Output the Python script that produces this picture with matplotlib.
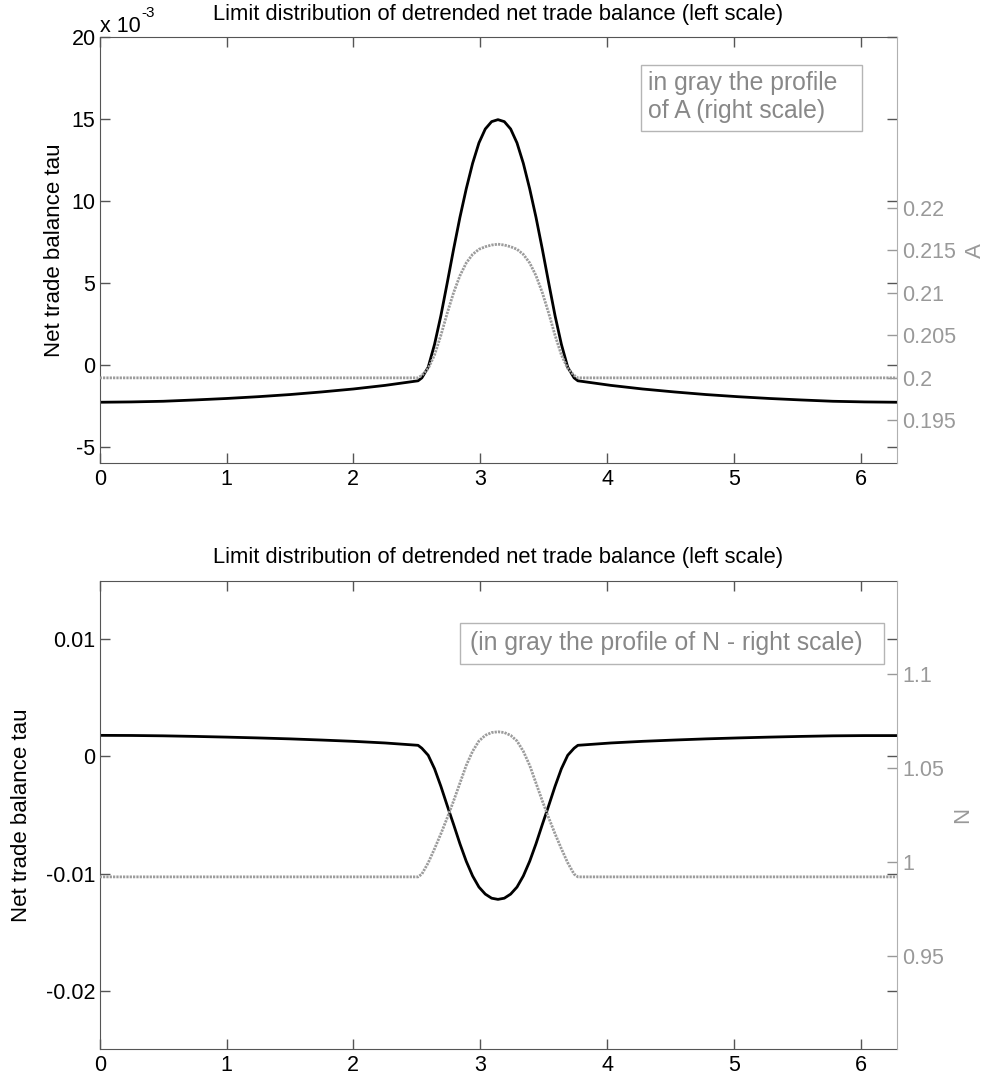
import numpy as np
import matplotlib
matplotlib.use("Agg")
import matplotlib.pyplot as plt
from matplotlib.ticker import FuncFormatter
from matplotlib.patches import Rectangle

plt.rcParams['font.family'] = ['Liberation Sans', 'DejaVu Sans']
plt.rcParams['axes.unicode_minus'] = False

# grid of the profile (0 .. 2*pi), finer around the bump at pi
x = [0, 0.25, 0.5, 0.75, 1.0, 1.25, 1.5, 1.75, 2.0, 2.25,
     2.51, 2.54, 2.59, 2.64, 2.69, 2.74, 2.79, 2.84, 2.89, 2.94, 2.99, 3.04, 3.09, 3.14,
     3.19, 3.24, 3.29, 3.34, 3.39, 3.44, 3.49, 3.54, 3.59, 3.64, 3.69, 3.74, 3.77,
     4.03, 4.28, 4.53, 4.78, 5.03, 5.28, 5.53, 5.78, 6.03, 6.283]

# top panel: net trade balance (x 1e-3) and A
tau_top = [-2.29, -2.27, -2.23, -2.15, -2.06, -1.95, -1.82, -1.66, -1.48, -1.26,
           -0.98, -0.80, -0.15, 1.25, 3.00, 5.00, 7.05, 9.00, 10.75, 12.30, 13.55, 14.40, 14.85, 14.97,
           14.85, 14.40, 13.55, 12.30, 10.75, 9.00, 7.05, 5.00, 3.00, 1.25, -0.15, -0.80, -0.98,
           -1.26, -1.48, -1.66, -1.82, -1.95, -2.06, -2.15, -2.23, -2.27, -2.29]
A_prof = [0.2, 0.2, 0.2, 0.2, 0.2, 0.2, 0.2, 0.2, 0.2, 0.2,
          0.2000, 0.2003, 0.2011, 0.2027, 0.2050, 0.2076, 0.2100, 0.2120, 0.2135, 0.2145, 0.2151, 0.2154, 0.2156, 0.2157,
          0.2156, 0.2154, 0.2151, 0.2145, 0.2135, 0.2120, 0.2100, 0.2076, 0.2050, 0.2027, 0.2011, 0.2003, 0.2000,
          0.2, 0.2, 0.2, 0.2, 0.2, 0.2, 0.2, 0.2, 0.2, 0.2]

# bottom panel: net trade balance (x 1e-3) and N
tau_bot = [1.80, 1.79, 1.76, 1.71, 1.65, 1.58, 1.50, 1.40, 1.29, 1.15,
           0.95, 0.70, 0.10, -1.05, -2.55, -4.20, -5.80, -7.45, -8.95, -10.20, -11.15, -11.75, -12.10, -12.20,
           -12.10, -11.75, -11.15, -10.20, -8.95, -7.45, -5.80, -4.20, -2.55, -1.05, 0.10, 0.70, 0.95,
           1.15, 1.29, 1.40, 1.50, 1.58, 1.65, 1.71, 1.76, 1.78, 1.78]
N_prof = [0.992, 0.992, 0.992, 0.992, 0.992, 0.992, 0.992, 0.992, 0.992, 0.992,
          0.992, 0.9935, 0.9995, 1.0070, 1.0150, 1.0235, 1.0325, 1.0420, 1.0515, 1.0590, 1.0645, 1.0675, 1.0690, 1.0694,
          1.0690, 1.0675, 1.0645, 1.0590, 1.0515, 1.0420, 1.0325, 1.0235, 1.0150, 1.0070, 0.9995, 0.9935, 0.992,
          0.992, 0.992, 0.992, 0.992, 0.992, 0.992, 0.992, 0.992, 0.992, 0.992]

x = np.array(x)
tau_top = np.array(tau_top) * 1e-3
tau_bot = np.array(tau_bot) * 1e-3

title = "Limit distribution of detrended net trade balance (left scale)"
fs = 15.5     # tick labels
fs_lab = 16   # axis labels
fs_title = 15.8
fs_box = 17.8
gray = '#999999'
frame = '#555555'


def style_axes(ax, ax2, gray_ticks, gray_lim):
    ax.set_xlim(0, 2 * np.pi)
    ax.set_xticks([0, 1, 2, 3, 4, 5, 6])
    ax.tick_params(direction='in', length=7, width=1, color=frame, labelsize=fs,
                   top=True, right=True, pad=4)
    ax.tick_params(axis='y', pad=3)
    for s in ['left', 'top', 'bottom']:
        ax.spines[s].set_color(frame)
    ax.spines['right'].set_visible(False)
    ax2.set_ylim(*gray_lim)
    ax2.set_yticks(gray_ticks)
    ax2.yaxis.set_major_formatter(FuncFormatter(lambda v, p: '%g' % round(v, 4)))
    ax2.tick_params(direction='in', length=7, width=1, color=gray, labelcolor=gray,
                    labelsize=fs, pad=4)
    for s in ['left', 'top', 'bottom']:
        ax2.spines[s].set_visible(False)
    ax2.spines['right'].set_color('#b0b0b0')


def note_box(ax, x0, y0, x1, y1, tx, ty, s):
    ax.add_patch(Rectangle((x0, y0), x1 - x0, y1 - y0, transform=ax.transAxes,
                           fc='white', ec='#b5b5b5', lw=1, zorder=5))
    ax.text(tx, ty, s, transform=ax.transAxes, fontsize=fs_box, color='#888888',
            ha='left', va='center', linespacing=1.2, zorder=6)


fig = plt.figure(figsize=(9.9, 10.81), dpi=100)

# ---- top panel ----
ax1 = fig.add_axes([0.1007, 0.5717, 0.805, 0.3938])
ax1b = ax1.twinx()
ax1.plot(x, tau_top, color='black', lw=2.0)
ax1b.plot(x, A_prof, color='#9c9c9c', lw=2.0, linestyle=(0, (0.8, 0.4)))
ax1.set_ylim(-6e-3, 20e-3)
ax1.set_yticks([-5e-3, 0, 5e-3, 10e-3, 15e-3, 20e-3])
ax1.yaxis.set_major_formatter(FuncFormatter(lambda v, p: '%g' % round(v * 1e3, 6)))
style_axes(ax1, ax1b, [0.195, 0.2, 0.205, 0.21, 0.215, 0.22], (0.19, 0.24))
ax1.set_title(title, fontsize=fs_title, pad=12.5)
ax1.set_ylabel('Net trade balance tau', fontsize=fs_lab)
ax1.yaxis.set_label_coords(-0.044, 0.5)
ax1b.set_ylabel('A', fontsize=fs_lab, color=gray, labelpad=6)
ax1.text(0.0, 1.013, 'x 10', transform=ax1.transAxes, fontsize=15.5,
         ha='left', va='baseline')
ax1.text(0.0525, 1.047, '-3', transform=ax1.transAxes, fontsize=11,
         ha='left', va='baseline')
note_box(ax1b, 0.6792, 0.7806, 0.9561, 0.9349, 0.6880, 0.8605,
         'in gray the profile\nof A (right scale)')

# ---- bottom panel ----
ax2 = fig.add_axes([0.1007, 0.0293, 0.805, 0.4335])
ax2b = ax2.twinx()
ax2.plot(x, tau_bot, color='black', lw=2.0)
ax2b.plot(x, N_prof, color='#9c9c9c', lw=2.0, linestyle=(0, (0.8, 0.4)))
ax2.set_ylim(-0.025, 0.015)
ax2.set_yticks([-0.02, -0.01, 0, 0.01])
ax2.yaxis.set_major_formatter(FuncFormatter(lambda v, p: '%g' % round(v, 6)))
style_axes(ax2, ax2b, [0.95, 1.0, 1.05, 1.1], (0.9, 1.15))
ax2.set_title(title, fontsize=fs_title, pad=12.5)
ax2.set_ylabel('Net trade balance tau', fontsize=fs_lab)
ax2.yaxis.set_label_coords(-0.085, 0.5)
ax2b.set_ylabel('N', fontsize=fs_lab, color=gray, labelpad=6)
note_box(ax2b, 0.4521, 0.8222, 0.9846, 0.9104, 0.4642, 0.867,
         '(in gray the profile of N - right scale)')

fig.savefig('out.png', dpi=100)
